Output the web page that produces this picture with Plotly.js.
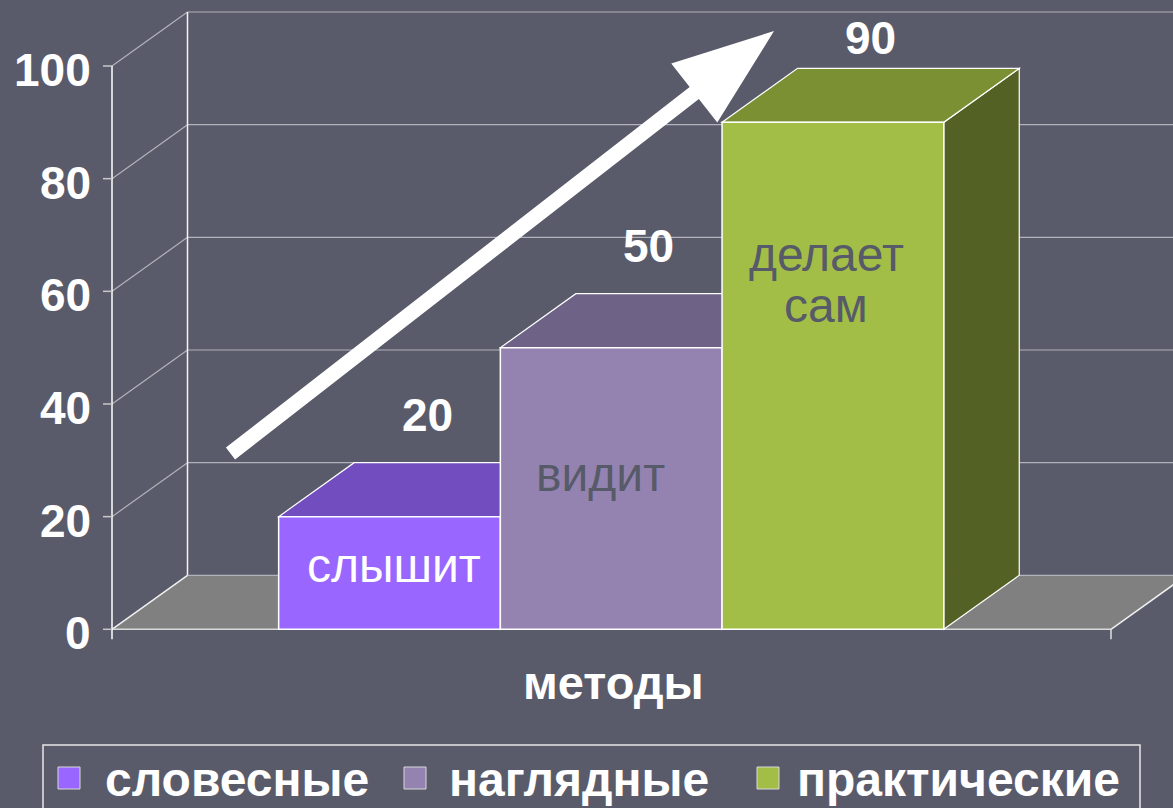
<!DOCTYPE html>
<html><head><meta charset="utf-8">
<script src="https://cdn.plot.ly/plotly-3.0.1.min.js"></script>
<style>html,body{margin:0;padding:0;background:#5A5B6A;overflow:hidden}#chart{width:1173px;height:808px}</style>
</head><body><div id="chart"></div>
<script>
// ---------- data ----------
const categories = ['словесные', 'наглядные', 'практические'];
const values = [20, 50, 90];
const insideLabels = ['слышит', 'видит', 'делает<br>сам'];
const yTicks = [0, 20, 40, 60, 80, 100];
const yTickLabels = ['0', '20', '40', '60', '80', '100'];
const axisTitle = 'методы';

// ---------- styles / layout constants ----------
const W = 1173, H = 808;
const BG = '#5A5B6A';
const frontColors = ['#9966FF', '#9483B1', '#A3BE46'];
const topColors = ['#714DBF', '#6E6287', '#7A9033'];
const sideColors = ['#5A3D99', '#584E6C', '#536124'];
const insideColors = ['#FFFFFF', '#575A68', '#575A68'];
const insideDx = [0.02, -0.05, -0.03];
const insideY = [11.4, 27.4, 62];
const FONT = 'Arial, "Liberation Sans", sans-serif';
const GRID = '#B2B2BA';

const U = 221.7, X0PX = 389.5, VPX = 5.633, Y0PX = 629.3;
const xRange = [(0 - X0PX) / U, (W - X0PX) / U];
const yRange = [(Y0PX - H) / VPX, Y0PX / VPX];
const DX = 75.5 / U, DY = 54 / VPX;
const xF = (112 - X0PX) / U;
const xR = (1111 - X0PX) / U;
const xFar = xRange[1] + 0.5;
const yMax = yTicks[yTicks.length - 1];

const px = v => v / W, py = v => 1 - v / H;

const shapes = [];
const line = (x0, y0, x1, y1, color, width) => shapes.push({type: 'line', xref: 'x', yref: 'y', layer: 'below', x0, y0, x1, y1, line: {color, width}});

// floor
shapes.push({type: 'path', xref: 'x', yref: 'y', layer: 'below',
  path: `M${xF},0 L${xF + DX},${DY} L${xR + DX},${DY} L${xR},0 Z`,
  fillcolor: '#808080', line: {width: 0}});
// gridlines (side + back wall)
yTicks.forEach(t => {
  if (t > 0) line(xF, t, xF + DX, t + DY, GRID, 1.2);
  line(xF + DX, t + DY, xFar, t + DY, GRID, 1.2);
});
// floor edges
line(xF, 0, xF + DX, DY, '#F0F0F0', 1.5);
line(xR, 0, xR + DX, DY, '#F0F0F0', 1.5);
line(xF, 0, xR, 0, '#D8D8D8', 1.5);
// back wall vertical edge
line(xF + DX, DY, xF + DX, yMax + DY, '#F4F4F4', 1.5);
// front value axis
line(xF, -10 / VPX, xF, yMax, '#FFFFFF', 1.5);
yTicks.forEach(t => line(xF - 9 / U, t, xF, t, '#C8C8C8', 1.5));
line(xR, 0, xR, -10 / VPX, '#E0E0E0', 1.5);

// 3D faces of the bars (under the front faces)
values.forEach((v, i) => {
  const a = i - 0.5, b = i + 0.5;
  shapes.push({type: 'path', xref: 'x', yref: 'y', layer: 'below',
    path: `M${b},0 L${b + DX},${DY} L${b + DX},${v + DY} L${b},${v} Z`,
    fillcolor: sideColors[i], line: {color: '#FFFFFF', width: 1.2}});
  shapes.push({type: 'path', xref: 'x', yref: 'y', layer: 'below',
    path: `M${a},${v} L${a + DX},${v + DY} L${b + DX},${v + DY} L${b},${v} Z`,
    fillcolor: topColors[i], line: {color: '#FFFFFF', width: 1.2}});
});

// arrow (decoration)
(function () {
  const T = [230.5, 453.5], P = [774, 31];
  const L = Math.hypot(P[0] - T[0], P[1] - T[1]);
  const u = [(P[0] - T[0]) / L, (P[1] - T[1]) / L], n = [-u[1], u[0]];
  const Lh = 101, hw = 37.5, w = 7.5;
  const N = [P[0] - Lh * u[0], P[1] - Lh * u[1]];
  const pts = [
    [T[0] - w * n[0], T[1] - w * n[1]],
    [N[0] - w * n[0], N[1] - w * n[1]],
    [N[0] - hw * n[0], N[1] - hw * n[1]],
    P,
    [N[0] + hw * n[0], N[1] + hw * n[1]],
    [N[0] + w * n[0], N[1] + w * n[1]],
    [T[0] + w * n[0], T[1] + w * n[1]]
  ];
  const path = 'M' + pts.map(p => px(p[0]) + ',' + py(p[1])).join(' L') + ' Z';
  shapes.push({type: 'path', xref: 'paper', yref: 'paper', path, fillcolor: '#FFFFFF', line: {width: 0}, layer: 'above'});
})();

// legend box and swatches
const legSwX = [58, 404, 757], legTxtX = [103, 447, 795];
shapes.push({type: 'rect', xref: 'paper', yref: 'paper', x0: px(43), x1: px(1140), y0: py(745), y1: py(830),
  line: {color: '#E8E8E8', width: 1.5}, fillcolor: 'rgba(0,0,0,0)'});
categories.forEach((c, i) => {
  shapes.push({type: 'rect', xref: 'paper', yref: 'paper', x0: px(legSwX[i]), x1: px(legSwX[i] + 22), y0: py(789), y1: py(767),
    fillcolor: frontColors[i], line: {color: '#D8D8D8', width: 1}});
});

// ---------- traces ----------
const traces = categories.map((c, i) => ({
  type: 'bar', name: c, x: [i], y: [values[i]], width: 1,
  marker: {color: frontColors[i], line: {color: '#FFFFFF', width: 1.5}},
  hoverinfo: 'name+y', showlegend: false
}));

// ---------- annotations ----------
const ann = [];
yTicks.forEach((t, i) => ann.push({x: xF, y: t, xref: 'x', yref: 'y', text: yTickLabels[i], showarrow: false,
  xanchor: 'right', yanchor: 'middle', xshift: -19, yshift: -4,
  font: {family: FONT, size: 46, color: '#FFFFFF', weight: 'bold'}}));
values.forEach((v, i) => ann.push({x: i + DX / 2, y: Math.min(v + DY + 48 / VPX, 105), xref: 'x', yref: 'y',
  text: String(v), showarrow: false, xanchor: 'center', yanchor: 'middle',
  font: {family: FONT, size: 46, color: '#FFFFFF', weight: 'bold'}}));
insideLabels.forEach((lab, i) => {
  const parts = lab.split('<br>');
  parts.forEach((p, k) => ann.push({x: i + insideDx[i], y: insideY[i], xref: 'x', yref: 'y', text: p, showarrow: false,
    xanchor: 'center', yanchor: 'middle', yshift: ((parts.length - 1) / 2 - k) * 51,
    font: {family: FONT, size: 48, color: insideColors[i]}}));
});
ann.push({x: px(613), y: py(682), xref: 'paper', yref: 'paper', text: axisTitle, showarrow: false,
  xanchor: 'center', yanchor: 'middle', font: {family: FONT, size: 47, color: '#FFFFFF', weight: 'bold'}});
categories.forEach((c, i) => ann.push({x: px(legTxtX[i]), y: py(779), xref: 'paper', yref: 'paper', text: c, showarrow: false,
  xanchor: 'left', yanchor: 'middle', font: {family: FONT, size: 48, color: '#FFFFFF', weight: 'bold'}}));

const layout = {
  width: W, height: H, margin: {l: 0, r: 0, t: 0, b: 0, pad: 0},
  paper_bgcolor: BG, plot_bgcolor: BG, showlegend: false, barmode: 'overlay',
  xaxis: {range: xRange, visible: false, fixedrange: true},
  yaxis: {range: yRange, visible: false, fixedrange: true},
  shapes, annotations: ann
};
Plotly.newPlot('chart', traces, layout, {displayModeBar: false, staticPlot: true});
</script></body></html>
